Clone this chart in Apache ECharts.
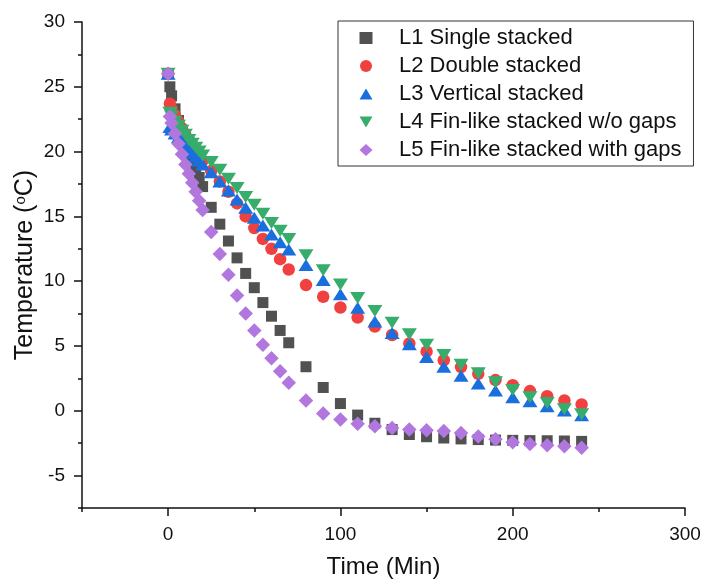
<!DOCTYPE html>
<html>
<head>
<meta charset="utf-8">
<script src="https://cdn.jsdelivr.net/npm/echarts@6/dist/echarts.min.js"></script>
<style>
  html, body { margin: 0; padding: 0; background: #fff; }
  #chart { width: 704px; height: 581px; }
</style>
</head>
<body>
<div id="chart"></div>
<script>
// Sampling times (min)
const time = [0, 1, 2, 4, 6, 8, 10, 12, 14, 16, 18, 20,
  25, 30, 35, 40, 45, 50, 55, 60, 65, 70,
  80, 90, 100, 110, 120, 130, 140, 150, 160, 170, 180, 190, 200, 210, 220, 230, 240];

// Temperatures (°C) for each layout
const l1Single = [26.0, 25.0, 24.3, 23.3, 22.4, 21.6, 20.8, 20.0, 19.3, 18.7, 18.0, 17.3,
  15.7, 14.4, 13.1, 11.8, 10.6, 9.5, 8.35, 7.3, 6.2, 5.25,
  3.4, 1.8, 0.56, -0.33, -0.96, -1.45, -1.83, -2.0, -2.1, -2.17, -2.22, -2.26, -2.28, -2.3, -2.31, -2.33, -2.36];
const l2Double = [26.0, 23.7, 23.3, 22.8, 22.3, 21.8, 21.3, 20.9, 20.5, 20.1, 19.7, 19.3,
  18.5, 17.7, 16.9, 16.0, 15.0, 14.1, 13.26, 12.5, 11.7, 10.9,
  9.7, 8.8, 7.97, 7.2, 6.5, 5.85, 5.2, 4.56, 3.9, 3.37, 2.86, 2.37, 1.98, 1.52, 1.13, 0.8, 0.49];
const l3Vertical = [26.0, 21.9, 21.7, 21.4, 21.1, 20.8, 20.5, 20.2, 19.9, 19.6, 19.3, 19.0,
  18.4, 17.7, 17.0, 16.3, 15.66, 14.9, 14.3, 13.6, 13.0, 12.45,
  11.25, 10.1, 9.0, 7.95, 6.9, 6.0, 5.13, 4.15, 3.4, 2.7, 2.1, 1.57, 1.05, 0.74, 0.36, 0.02, -0.34];
const l4FinNoGaps = [26.0, 23.0, 22.7, 22.3, 22.0, 21.6, 21.3, 20.9, 20.6, 20.3, 20.0, 19.7,
  19.2, 18.6, 17.9, 17.2, 16.5, 15.9, 15.2, 14.5, 13.9, 13.25,
  12.0, 10.85, 9.75, 8.7, 7.7, 6.8, 5.9, 5.1, 4.3, 3.55, 2.9, 2.2, 1.6, 1.05, 0.6, 0.12, -0.27];
const l5FinGaps = [26.0, 22.7, 22.2, 21.4, 20.6, 19.8, 19.0, 18.3, 17.6, 16.9, 16.2, 15.5,
  13.8, 12.1, 10.5, 8.9, 7.5, 6.2, 5.1, 4.05, 3.06, 2.16,
  0.8, -0.2, -0.67, -1.0, -1.2, -1.32, -1.45, -1.5, -1.55, -1.71, -1.98, -2.2, -2.43, -2.56, -2.66, -2.74, -2.85];

const seriesNames = [
  'L1 Single stacked',
  'L2 Double stacked',
  'L3 Vertical stacked',
  'L4 Fin-like stacked w/o gaps',
  'L5 Fin-like stacked with gaps'
];

// Axis ticks
const xMajorTicks = [0, 100, 200, 300];
const xMinorTicks = [-50, 50, 150, 250];
const yMajorTicks = [-5, 0, 5, 10, 15, 20, 25, 30];
const yMinorTicks = [-7.5, -2.5, 2.5, 7.5, 12.5, 17.5, 22.5, 27.5];

const FONT = '"Liberation Sans", Arial, sans-serif';
const INK = '#111';

// Marker shapes
const SYM_SQUARE = 'rect';
const SYM_CIRCLE = 'circle';
const SYM_UP = 'path://M5,0L10,8.5L0,8.5Z';
const SYM_DOWN = 'path://M0,0L10,0L5,8.5Z';
const SYM_DIAMOND = 'diamond';

function pairs(ys) {
  return time.map((t, i) => [t, ys[i]]);
}

const chart = echarts.init(document.getElementById('chart'), null, { renderer: 'canvas' });

const lineStyle = { color: INK, width: 1.5 };

chart.setOption({
  animation: false,
  backgroundColor: '#fff',
  grid: { left: 82, right: 19, top: 22, bottom: 73, containLabel: false, outerBoundsMode: 'none' },
  legend: {
    left: 338,
    top: 21,
    orient: 'vertical',
    padding: [6, 12, 5, 21.5],
    itemGap: 6,
    itemWidth: 13,
    itemHeight: 12,
    borderColor: '#333',
    borderWidth: 1,
    textStyle: { fontFamily: FONT, fontSize: 22, lineHeight: 22, color: INK, padding: [0, 0, 0, 21.5] },
    data: [
      { name: seriesNames[0], icon: SYM_SQUARE },
      { name: seriesNames[1], icon: SYM_CIRCLE },
      { name: seriesNames[2], icon: SYM_UP },
      { name: seriesNames[3], icon: SYM_DOWN },
      { name: seriesNames[4], icon: SYM_DIAMOND }
    ]
  },
  xAxis: [
    {
      type: 'value', min: -50, max: 300, position: 'bottom',
      splitLine: { show: false },
      axisLine: { show: true, onZero: false, lineStyle: lineStyle },
      name: 'Time (Min)',
      nameLocation: 'middle',
      nameGap: 47,
      nameMoveOverlap: false,
      nameTextStyle: { fontFamily: FONT, fontSize: 24, color: INK },
      axisTick: { show: true, customValues: xMajorTicks, length: 8, lineStyle: lineStyle },
      axisLabel: { customValues: xMajorTicks, margin: 17, fontFamily: FONT, fontSize: 19, color: INK }
    },
    {
      type: 'value', min: -50, max: 300, position: 'bottom',
      splitLine: { show: false },
      axisLine: { show: false, onZero: false },
      axisTick: { show: true, customValues: xMinorTicks, length: 4, lineStyle: lineStyle },
      axisLabel: { show: false }
    }
  ],
  yAxis: [
    {
      type: 'value', min: -7.5, max: 30, position: 'left',
      splitLine: { show: false },
      axisLine: { show: true, onZero: false, lineStyle: lineStyle },
      name: '{t|Temperature (}{s|o}{t|C)}',
      nameLocation: 'middle',
      nameGap: 44,
      nameMoveOverlap: false,
      nameTextStyle: {
        fontFamily: FONT, color: INK,
        rich: {
          t: { fontFamily: FONT, fontSize: 25, color: INK },
          s: { fontFamily: FONT, fontSize: 15, color: INK, verticalAlign: 'top' }
        }
      },
      axisTick: { show: true, customValues: yMajorTicks, length: 8, lineStyle: lineStyle },
      axisLabel: { customValues: yMajorTicks, margin: 17, fontFamily: FONT, fontSize: 19, color: INK }
    },
    {
      type: 'value', min: -7.5, max: 30, position: 'left',
      splitLine: { show: false },
      axisLine: { show: false, onZero: false },
      axisTick: { show: true, customValues: yMinorTicks, length: 4, lineStyle: lineStyle },
      axisLabel: { show: false }
    }
  ],
  series: [
    {
      name: seriesNames[0], type: 'scatter', data: pairs(l1Single),
      symbol: SYM_SQUARE, symbolSize: 11,
      itemStyle: { color: '#515151', opacity: 1 }
    },
    {
      name: seriesNames[1], type: 'scatter', data: pairs(l2Double),
      symbol: SYM_CIRCLE, symbolSize: 12.5,
      itemStyle: { color: '#F14040', opacity: 1 }
    },
    {
      name: seriesNames[2], type: 'scatter', data: pairs(l3Vertical),
      symbol: SYM_UP, symbolSize: [15, 12],
      itemStyle: { color: '#1A6FDF', opacity: 1 }
    },
    {
      name: seriesNames[3], type: 'scatter', data: pairs(l4FinNoGaps),
      symbol: SYM_DOWN, symbolSize: [15, 12],
      itemStyle: { color: '#37AD6B', opacity: 1 }
    },
    {
      name: seriesNames[4], type: 'scatter', data: pairs(l5FinGaps),
      symbol: SYM_DIAMOND, symbolSize: 14.5,
      itemStyle: { color: '#B177DE', opacity: 1 }
    }
  ]
});
</script>
</body>
</html>
